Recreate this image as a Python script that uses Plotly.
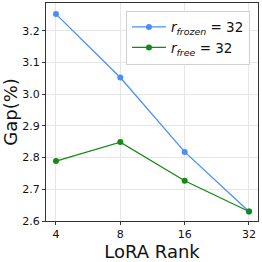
import plotly.graph_objects as go

ranks = ["4", "8", "16", "32"]
gap_frozen = [3.253, 3.053, 2.818, 2.630]
gap_free = [2.789, 2.849, 2.727, 2.630]
y_ticks = [2.6, 2.7, 2.8, 2.9, 3.0, 3.1, 3.2]

xpos = list(range(len(ranks)))

fig = go.Figure()
fig.add_trace(go.Scatter(
    x=xpos, y=gap_frozen, mode="lines+markers",
    line=dict(color="#4a8ff7", width=1.3),
    marker=dict(color="#4a8ff7", size=6),
    name="<i>r</i><sub><i>frozen</i></sub> = 32",
))
fig.add_trace(go.Scatter(
    x=xpos, y=gap_free, mode="lines+markers",
    line=dict(color="#138a13", width=1.3),
    marker=dict(color="#138a13", size=6),
    name="<i>r</i><sub><i>free</i></sub> = 32",
))

axis_common = dict(
    showline=True, linecolor="#333333", linewidth=1.2, mirror=True,
    showgrid=True, gridcolor="#e6e6e6", gridwidth=1,
    ticks="outside", ticklen=3, tickcolor="#333333",
    tickfont=dict(family="DejaVu Sans", size=11, color="#111111"),
    zeroline=False,
)

fig.update_layout(
    width=262, height=262,
    margin=dict(l=46, r=4, t=3, b=41),
    paper_bgcolor="white", plot_bgcolor="white",
    font=dict(family="DejaVu Sans", color="#111111"),
    xaxis=dict(
        tickmode="array", tickvals=xpos, ticktext=ranks,
        range=[-0.155, 3.14],
        title=dict(text="LoRA Rank", font=dict(size=18), standoff=4),
        **axis_common,
    ),
    yaxis=dict(
        tickmode="array", tickvals=y_ticks,
        ticktext=[f"{v:.1f}" for v in y_ticks],
        range=[2.6, 3.288],
        title=dict(text="Gap(%)", font=dict(size=18), standoff=4),
        **axis_common,
    ),
    legend=dict(
        x=0.962, y=0.965, xanchor="right", yanchor="top",
        bgcolor="rgba(255,255,255,0.9)", bordercolor="#d0d0d0", borderwidth=1,
        font=dict(size=13.5, family="DejaVu Sans"),
        tracegroupgap=0, itemwidth=34,
    ),
    showlegend=True,
)

fig.write_html("out.html", config={"displayModeBar": False},
               post_script="document.body.style.margin='0';")
